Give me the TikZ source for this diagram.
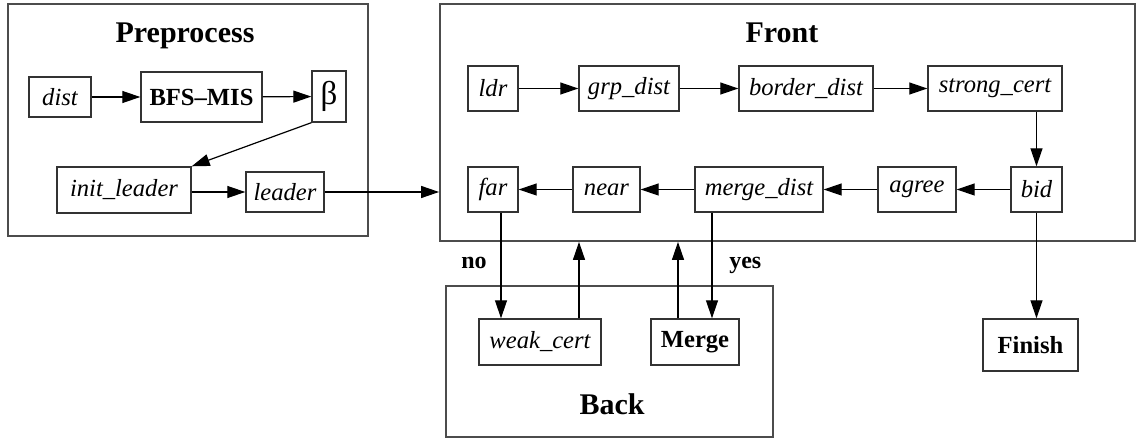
\documentclass[tikz,border=0pt]{standalone}
\usepackage{fontspec}
\setmainfont{Liberation Serif}
\usetikzlibrary{arrows.meta}

\tikzset{
  box/.style={draw=black!80, line width=0.7pt, inner sep=0pt, minimum height=22.5pt, font=\fontsize{12.3}{14}\selectfont\itshape},
  boldbox/.style={box, font=\fontsize{12.3}{14}\selectfont\bfseries},
  cluster/.style={draw=black!70, line width=0.9pt, inner sep=0pt},
  title/.style={anchor=base, font=\fontsize{15}{18}\selectfont\bfseries},
  lbl/.style={anchor=base, font=\fontsize{12}{14}\selectfont\bfseries}
}

\begin{document}
\begin{tikzpicture}[x=0.5pt,y=-0.5pt,line width=0.6pt,>={Triangle[length=9pt,width=6pt]}]
	\useasboundingbox (0,0) rectangle (1136,438);
	% clusters
	\node (pre) [cluster, minimum width=180pt, minimum height=116pt] at (188,120) {};
	\node (front) [cluster, minimum width=347.5pt, minimum height=118.5pt] at (787.5,122.5) {};
	\node (back) [cluster, minimum width=163.5pt, minimum height=75.5pt] at (609.5,361.5) {};
	\node (tpre) [title] at (185,43) {Preprocess};
	\node (tfront) [title] at (782,43) {Front};
	\node (tback) [title] at (612,415) {Back};
	% preprocess
	\node (dist) [box, minimum width=31pt, minimum height=20pt] at (60,97) {dist};
	\node (bfs) [boldbox, minimum width=60.5pt, minimum height=25pt] at (201.5,97) {BFS--MIS};
	\node (beta) [box, font=\fontsize{16.5}{18}\selectfont, minimum width=17pt, minimum height=25.5pt] at (329,96.5) {β};
	\node (initleader) [box, minimum width=67pt, minimum height=23pt] at (124,190) {init\_leader};
	\node (leader) [box, minimum width=39pt, minimum height=20pt] at (285,192) {leader};
	% front, upper row
	\node (ldr) [box, minimum width=25pt] at (493,88.5) {ldr};
	\node (grpdist) [box, minimum width=50pt] at (629,88.5) {grp\_dist};
	\node (borderdist) [box, minimum width=67pt] at (806,88.5) {border\_dist};
	\node (strongcert) [box, minimum width=67pt] at (995,88.5) {strong\_cert};
	% front, lower row
	\node (far) [box, minimum width=25pt] at (493,189.5) {far};
	\node (near) [box, minimum width=33.5pt] at (606.5,189.5) {near};
	\node (mergedist) [box, minimum width=64pt] at (759,189.5) {merge\_dist};
	\node (agree) [box, minimum width=39pt] at (917,189.5) {agree};
	\node (bid) [box, minimum width=25.5pt] at (1036.5,189.5) {bid};
	% back
	\node (weakcert) [box, minimum width=61pt, minimum height=23pt] at (540,342) {weak\_cert};
	\node (merge) [boldbox, minimum width=44pt, minimum height=23pt] at (695,342) {Merge};
	\node (finish) [boldbox, minimum width=47.5pt, minimum height=26pt] at (1030.5,345) {Finish};
	\node (lblno) [lbl, anchor=base east] at (494,269) {no};
	\node (lblyes) [lbl, anchor=base west] at (722,269) {yes};

	\draw[->] (dist) -- (bfs);
	\draw[->] (bfs) -- (beta);
	\draw[->] (beta.south west) -- (initleader.north east);
	\draw[->] (initleader.east |- leader) -- (leader);
	\draw[->] (leader.east) -- (leader.east -| front.west);

	\draw[->] (ldr) -- (grpdist);
	\draw[->] (grpdist) -- (borderdist);
	\draw[->] (borderdist) -- (strongcert);
	\draw[->] (strongcert.south -| bid) -- (bid.north);
	\draw[->] (bid) -- (agree);
	\draw[->] (agree) -- (mergedist);
	\draw[->] (mergedist) -- (near);
	\draw[->] (near) -- (far);

	\draw[->] ([xshift=4pt]far.south) -- ([xshift=4pt]far.south |- weakcert.north);
	\draw[->] ([xshift=19.5pt]weakcert.north) -- ([xshift=19.5pt]weakcert.north |- front.south);
	\draw[->] ([xshift=-8.5pt]merge.north) -- ([xshift=-8.5pt]merge.north |- front.south);
	\draw[->] ([xshift=-23.5pt]mergedist.south) -- ([xshift=-23.5pt]mergedist.south |- merge.north);
	\draw[->] (bid.south) -- (bid.south |- finish.north);
\end{tikzpicture}
\end{document}
